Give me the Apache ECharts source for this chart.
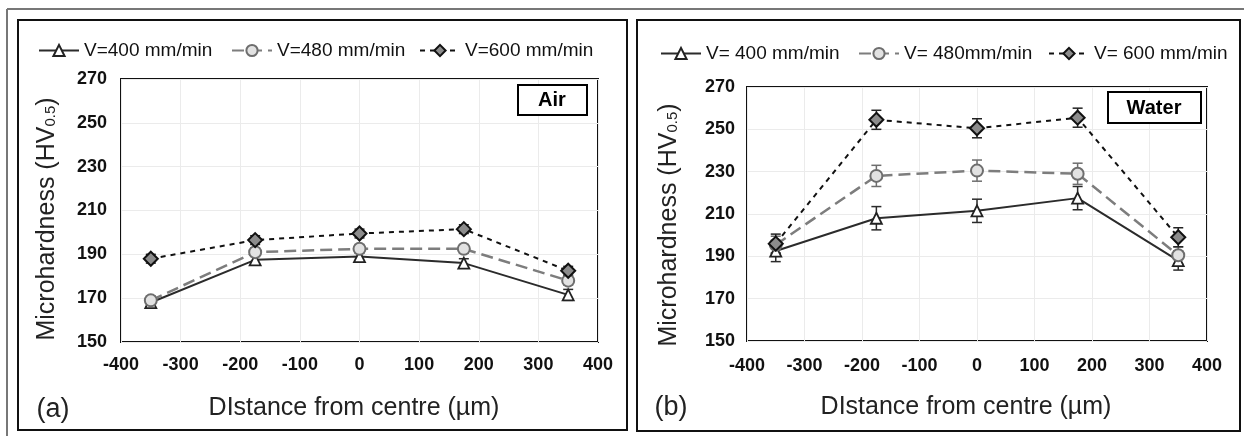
<!DOCTYPE html>
<html>
<head>
<meta charset="utf-8">
<script src="https://cdn.jsdelivr.net/npm/echarts@6/dist/echarts.min.js"></script>
<style>
html,body{margin:0;padding:0;background:#fff;}
#chart{width:1244px;height:436px;}
</style>
</head>
<body>
<div id="chart"></div>
<script>
// ---- data ----
const xPos = [-350, -175, 0, 175, 350];
const xTicks = [-400, -300, -200, -100, 0, 100, 200, 300, 400];
const yTicks = [150, 170, 190, 210, 230, 250, 270];

const namesAir = ['V=400 mm/min', 'V=480 mm/min', 'V=600 mm/min'];
const namesWater = ['V= 400 mm/min', 'V= 480mm/min', 'V= 600 mm/min'];

const airV400 = [168, 187.5, 189, 186, 171.5];
const airV480 = [169, 191, 192.5, 192.5, 178];
const airV600 = [188, 196.5, 199.5, 201.5, 182.5];
const airErr400 = [2, 2, 2, 2, 2.5];
const airErr480 = [2, 2, 2, 2, 2];
const airErr600 = [2, 2, 2, 2, 2];

const waterV400 = [192.5, 208, 211.5, 217.5, 188];
const waterV480 = [195.5, 228, 230.5, 229, 190.5];
const waterV600 = [196, 254.5, 250.5, 255.5, 199];
const waterErr400 = [5, 5.5, 5.5, 5.5, 4.5];
const waterErr480 = [4, 5, 5, 5, 4];
const waterErr600 = [4.5, 4.5, 4.5, 4.5, 4.5];

// ---- styles ----
const FONT = 'Liberation Sans, Arial, sans-serif';
const styles = [
  {symbol: 'triangle', symbolSize: 11, line: {color: '#2b2b2b', width: 2, type: 'solid'},
   item: {color: '#ffffff', borderColor: '#222', borderWidth: 1.8}, err: '#2b2b2b'},
  {symbol: 'circle', symbolSize: 12, line: {color: '#7d7d7d', width: 2.5, type: [12, 6]},
   item: {color: '#e2e2e2', borderColor: '#6e6e6e', borderWidth: 2}, err: '#6e6e6e'},
  {symbol: 'diamond', symbolSize: 14, line: {color: '#111', width: 2, type: [5, 5]},
   item: {color: '#8c8c8c', borderColor: '#111', borderWidth: 2}, err: '#222'}
];

function pts(vals) { return xPos.map((x, i) => [x, vals[i]]); }
function errPts(vals, errs) { return xPos.map((x, i) => [x, vals[i] - errs[i], vals[i] + errs[i]]); }

function lineSeries(name, vals, s, gi) {
  return {
    type: 'line', name: name, xAxisIndex: gi, yAxisIndex: gi,
    data: pts(vals), symbol: s.symbol, symbolSize: s.symbolSize,
    lineStyle: s.line, itemStyle: s.item, z: 5, animation: false
  };
}
function errSeries(vals, errs, s, gi) {
  return {
    type: 'custom', xAxisIndex: gi, yAxisIndex: gi, z: 3, animation: false,
    data: errPts(vals, errs), encode: {x: 0, y: [1, 2]},
    renderItem: function (params, api) {
      const lo = api.coord([api.value(0), api.value(1)]);
      const hi = api.coord([api.value(0), api.value(2)]);
      const w = 5;
      const st = {stroke: s.err, lineWidth: 1.5};
      return {type: 'group', children: [
        {type: 'line', shape: {x1: lo[0], y1: lo[1], x2: hi[0], y2: hi[1]}, style: st},
        {type: 'line', shape: {x1: lo[0] - w, y1: lo[1], x2: lo[0] + w, y2: lo[1]}, style: st},
        {type: 'line', shape: {x1: hi[0] - w, y1: hi[1], x2: hi[0] + w, y2: hi[1]}, style: st}
      ]};
    }
  };
}

const grids = [
  {left: 121, top: 79, width: 477, height: 263},
  {left: 747, top: 87, width: 460, height: 254}
];
const yMargins = [14, 12];
const xMargins = [14, 16];

function xAxis(gi) {
  return {
    type: 'value', gridIndex: gi, min: xTicks[0], max: xTicks[xTicks.length - 1], interval: 100,
    axisLine: {show: false}, axisTick: {show: false},
    splitLine: {show: true, lineStyle: {color: '#ebebeb', width: 1}},
    axisLabel: {fontSize: 18, fontWeight: 'bold', color: '#111', fontFamily: FONT, margin: xMargins[gi]}
  };
}
function yAxis(gi) {
  return {
    type: 'value', gridIndex: gi, min: yTicks[0], max: yTicks[yTicks.length - 1], interval: 20,
    axisLine: {show: false}, axisTick: {show: false},
    splitLine: {show: true, lineStyle: {color: '#ebebeb', width: 1}},
    axisLabel: {fontSize: 18, fontWeight: 'bold', color: '#111', fontFamily: FONT, margin: yMargins[gi]}
  };
}

function legend(name, left, top) {
  return {
    data: [name], left: left, top: top, itemWidth: 40, itemHeight: 14, itemGap: 0,
    textStyle: {fontSize: 19, color: '#111', fontFamily: FONT},
    selectedMode: false
  };
}

const series = [];
const airVals = [airV400, airV480, airV600], airErrs = [airErr400, airErr480, airErr600];
const waterVals = [waterV400, waterV480, waterV600], waterErrs = [waterErr400, waterErr480, waterErr600];
for (let i = 0; i < 3; i++) {
  series.push(errSeries(airVals[i], airErrs[i], styles[i], 0));
  series.push(lineSeries(namesAir[i], airVals[i], styles[i], 0));
}
for (let i = 0; i < 3; i++) {
  series.push(errSeries(waterVals[i], waterErrs[i], styles[i], 1));
  series.push(lineSeries(namesWater[i], waterVals[i], styles[i], 1));
}

const rich = {sub: {fontSize: 15, fontFamily: FONT, color: '#222', padding: [8, 0, 0, 0]}};
function yTitle(x, y) {
  return {type: 'text', x: x, y: y, rotation: Math.PI / 2, z: 10,
    style: {text: 'Microhardness (HV{sub|0.5})', fontSize: 25, fontFamily: FONT, fill: '#222',
      align: 'center', verticalAlign: 'middle', rich: rich}};
}
function txt(t, x, y, size, weight) {
  return {type: 'text', x: x, y: y, z: 10,
    style: {text: t, fontSize: size, fontWeight: weight || 'normal', fontFamily: FONT, fill: '#222',
      align: 'center', verticalAlign: 'middle'}};
}
function box(x, y, w, h, color, lw) {
  return {type: 'rect', shape: {x: x, y: y, width: w, height: h}, z: 1,
    style: {fill: 'transparent', stroke: color, lineWidth: lw}};
}

const option = {
  backgroundColor: '#fff',
  animation: false,
  grid: grids.map(g => Object.assign({show: true, borderColor: '#111', borderWidth: 2, backgroundColor: '#fff', containLabel: false}, g)),
  xAxis: [xAxis(0), xAxis(1)],
  yAxis: [yAxis(0), yAxis(1)],
  legend: [
    legend(namesAir[0], 33, 36), legend(namesAir[1], 226, 36), legend(namesAir[2], 414, 36),
    legend(namesWater[0], 655, 39), legend(namesWater[1], 853, 39), legend(namesWater[2], 1043, 39)
  ],
  graphic: [
    {type: 'line', shape: {x1: 7, y1: 9, x2: 1244, y2: 9}, style: {stroke: '#777', lineWidth: 2}},
    {type: 'line', shape: {x1: 7, y1: 9, x2: 7, y2: 436}, style: {stroke: '#777', lineWidth: 2}},
    box(18, 20, 609, 410, '#111', 2),
    box(637, 20, 603, 411, '#111', 2),
    yTitle(47, 219),
    yTitle(669, 225),
    txt('DIstance from centre (\u00b5m)', 354, 408, 25),
    txt('DIstance from centre (\u00b5m)', 966, 407, 25),
    txt('(a)', 53, 410, 27),
    txt('(b)', 671, 408, 27),
    {type: 'rect', shape: {x: 518, y: 85, width: 69, height: 30}, z: 20,
      style: {fill: '#fff', stroke: '#000', lineWidth: 2}},
    {type: 'text', x: 552, y: 100, z: 21, style: {text: 'Air', fontSize: 20, fontWeight: 'bold', fontFamily: FONT, fill: '#000', align: 'center', verticalAlign: 'middle'}},
    {type: 'rect', shape: {x: 1108, y: 92, width: 93, height: 31}, z: 20,
      style: {fill: '#fff', stroke: '#000', lineWidth: 2}},
    {type: 'text', x: 1154, y: 108, z: 21, style: {text: 'Water', fontSize: 20, fontWeight: 'bold', fontFamily: FONT, fill: '#000', align: 'center', verticalAlign: 'middle'}}
  ],
  series: series
};

const chart = echarts.init(document.getElementById('chart'), null, {renderer: 'canvas'});
chart.setOption(option);
</script>
</body>
</html>
